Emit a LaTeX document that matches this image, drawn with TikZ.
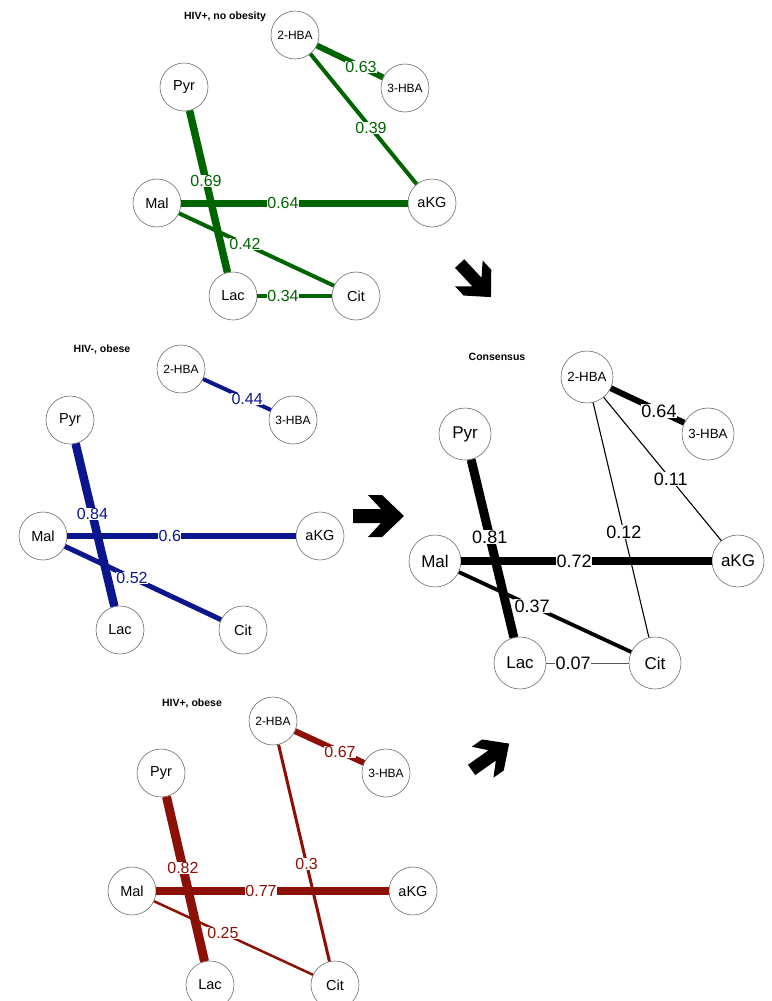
\documentclass[tikz,border=0pt]{standalone}
\usepackage{fontspec}
\setmainfont{Liberation Sans}
\usetikzlibrary{calc}
\definecolor{gr}{RGB}{0,100,0}
\definecolor{bl}{RGB}{12,22,140}
\definecolor{rd}{RGB}{140,16,6}
\definecolor{ring}{RGB}{110,110,110}
\begin{document}
\begin{tikzpicture}[x=1pt,y=-1pt,
  met/.style={circle,draw=ring,line width=0.6pt,fill=white,minimum size=48pt,inner sep=0pt,font=\fontsize{14.5}{14.5}\selectfont},
  hba/.style={met,font=\fontsize{12}{12}\selectfont},
  cmet/.style={met,minimum size=52pt,font=\fontsize{17}{17}\selectfont},
  chba/.style={cmet,font=\fontsize{13.3}{13.3}\selectfont},
  elab/.style={fill=white,inner sep=0.3pt,font=\fontsize{16}{16}\selectfont},
  clab/.style={elab,font=\fontsize{18}{18}\selectfont},
  ttl/.style={font=\fontsize{10.5}{10.5}\selectfont\bfseries},
  bigarrow/.pic={\fill[black] (-25,-7) -- (3,-7) -- (-10,-21) -- (4,-21) -- (26,0) -- (4,21) -- (-10,21) -- (3,7) -- (-25,7) -- cycle;}
]
\useasboundingbox (0,0) rectangle (771,1001);

% ---------------- Panel 1: HIV+, no obesity (green)
\node[ttl] (t1) at (225,17) {HIV+, no obesity};
\node[hba] (a2) at (295,35) {2-HBA};
\node[hba] (a3) at (405,88) {3-HBA};
\node[met] (ap) at (184,87) {Pyr};
\node[met] (am) at (157,203) {Mal};
\node[met] (ak) at (432,203) {aKG};
\node[met] (al) at (233,296) {Lac};
\node[met] (ac) at (356,296) {Cit};
\begin{scope}[gr]
\draw[line width=6pt] (a2) -- (a3);
\draw[line width=4pt] (a2) -- (ak);
\draw[line width=7.5pt] (ap) -- (al);
\draw[line width=7pt] (am) -- (ak);
\draw[line width=4pt] (am) -- (ac);
\draw[line width=3.5pt] (al) -- (ac);
\node[elab,text=gr] (la1) at ($(a2)!0.6!(a3)$) {0.63};
\node[elab,text=gr] (la2) at ($(a2)!0.555!(ak)$) {0.39};
\node[elab,text=gr] (la3) at ($(ap)!0.45!(al)$) {0.69};
\node[elab,text=gr] (la4) at ($(am)!0.458!(ak)$) {0.64};
\node[elab,text=gr] (la5) at ($(am)!0.442!(ac)$) {0.42};
\node[elab,text=gr] (la6) at ($(al)!0.407!(ac)$) {0.34};
\end{scope}

% ---------------- Panel 2: HIV-, obese (blue)
\node[ttl] (t2) at (102,350) {HIV-, obese};
\node[hba] (b2) at (181,369) {2-HBA};
\node[hba] (b3) at (293,420) {3-HBA};
\node[met] (bp) at (70,420) {Pyr};
\node[met] (bm) at (43,536) {Mal};
\node[met] (bk) at (320,536) {aKG};
\node[met] (bl) at (120,630) {Lac};
\node[met] (bc) at (243,630) {Cit};
\begin{scope}[bl]
\draw[line width=4pt] (b2) -- (b3);
\draw[line width=8.5pt] (bp) -- (bl);
\draw[line width=6pt] (bm) -- (bk);
\draw[line width=5pt] (bm) -- (bc);
\node[elab,text=bl] (lb1) at ($(b2)!0.59!(b3)$) {0.44};
\node[elab,text=bl] (lb2) at ($(bp)!0.448!(bl)$) {0.84};
\node[elab,text=bl] (lb3) at ($(bm)!0.458!(bk)$) {0.6};
\node[elab,text=bl] (lb4) at ($(bm)!0.445!(bc)$) {0.52};
\end{scope}

% ---------------- Panel 3: HIV+, obese (red)
\node[ttl] (t3) at (192,703) {HIV+, obese};
\node[hba] (r2) at (273,721) {2-HBA};
\node[hba] (r3) at (386,773) {3-HBA};
\node[met] (rp) at (161,773) {Pyr};
\node[met] (rm) at (132,891) {Mal};
\node[met] (rk) at (413,891) {aKG};
\node[met] (rl) at (210,985) {Lac};
\node[met] (rc) at (335,985) {Cit};
\begin{scope}[rd]
\draw[line width=6pt] (r2) -- (r3);
\draw[line width=3pt] (r2) -- (rc);
\draw[line width=9pt] (rp) -- (rl);
\draw[line width=8pt] (rm) -- (rk);
\draw[line width=2.5pt] (rm) -- (rc);
\node[elab,text=rd] (lr1) at ($(r2)!0.593!(r3)$) {0.67};
\node[elab,text=rd] (lr2) at ($(r2)!0.542!(rc)$) {0.3};
\node[elab,text=rd] (lr3) at ($(rp)!0.448!(rl)$) {0.82};
\node[elab,text=rd] (lr4) at ($(rm)!0.459!(rk)$) {0.77};
\node[elab,text=rd] (lr5) at ($(rm)!0.448!(rc)$) {0.25};
\end{scope}

% ---------------- Consensus (black)
\node[ttl] (t4) at (497,357) {Consensus};
\node[chba] (c2) at (587,377) {2-HBA};
\node[chba] (c3) at (708,434) {3-HBA};
\node[cmet] (cp) at (465,434) {Pyr};
\node[cmet] (cm) at (435,561) {Mal};
\node[cmet] (ck) at (738,561) {aKG};
\node[cmet] (cl) at (520,663) {Lac};
\node[cmet] (cc) at (655,663) {Cit};
\draw[line width=6pt] (c2) -- (c3);
\draw[line width=1.1pt] (c2) -- (ck);
\draw[line width=1.1pt] (c2) -- (cc);
\draw[line width=9pt] (cp) -- (cl);
\draw[line width=8pt] (cm) -- (ck);
\draw[line width=3.8pt] (cm) -- (cc);
\draw[line width=0.8pt,black!65] (cl) -- (cc);
\node[clab] (lc1) at ($(c2)!0.595!(c3)$) {0.64};
\node[clab] (lc2) at ($(c2)!0.554!(ck)$) {0.11};
\node[clab] (lc3) at ($(c2)!0.542!(cc)$) {0.12};
\node[clab] (lc4) at ($(cp)!0.45!(cl)$) {0.81};
\node[clab] (lc5) at ($(cm)!0.459!(ck)$) {0.72};
\node[clab] (lc6) at ($(cm)!0.441!(cc)$) {0.37};
\node[clab] (lc7) at ($(cl)!0.393!(cc)$) {0.07};

% ---------------- block arrows
\pic[rotate=-47,scale=0.9] at (475,280) {bigarrow};
\pic at (378,516) {bigarrow};
\pic[rotate=35,scale=0.9] at (490,757) {bigarrow};
\end{tikzpicture}
\end{document}
